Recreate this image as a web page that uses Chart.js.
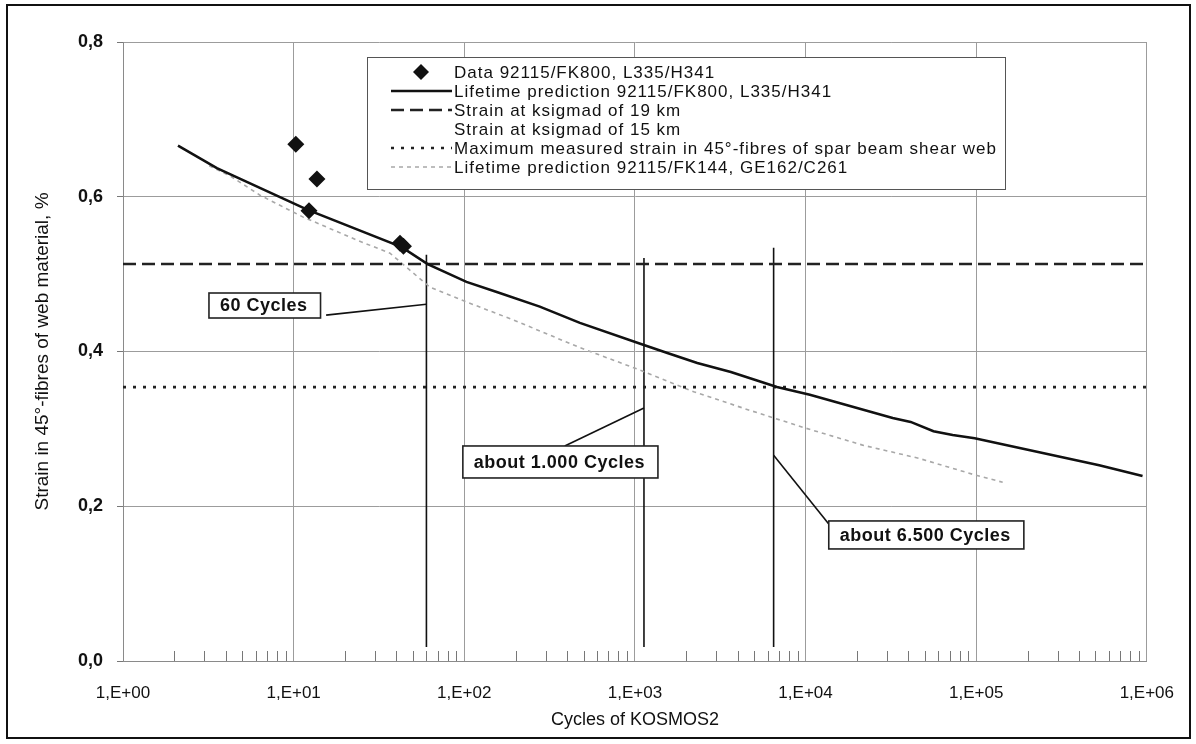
<!DOCTYPE html>
<html>
<head>
<meta charset="utf-8">
<script src="https://cdn.jsdelivr.net/npm/chart.js@4.4.1/dist/chart.umd.min.js"></script>
<style>
  html, body { margin: 0; padding: 0; background: #fff; }
  #lifeChart { display: block; }
</style>
</head>
<body>
<canvas id="lifeChart" width="1196" height="744"></canvas>
<script>
// test results, KOSMOS2 cycles vs. strain in %
const testCycles = [10.3, 13.7, 12.3, 42, 44];
const testStrain = [0.668, 0.623, 0.582, 0.540, 0.536];

// lifetime prediction 92115/FK800, L335/H341
const fk800Cycles = [2.1, 3.55, 12.1, 43, 61, 103, 155, 277, 476, 1140, 1550, 2320, 3650, 6800, 10600, 32400, 41300, 56200, 72800, 98000, 526000, 944000];
const fk800Strain = [0.666, 0.637, 0.583, 0.535, 0.513, 0.490, 0.477, 0.458, 0.437, 0.408, 0.398, 0.385, 0.3735, 0.354, 0.344, 0.314, 0.309, 0.297, 0.292, 0.288, 0.253, 0.239];

// lifetime prediction 92115/FK144, GE162/C261
const fk144Cycles = [3.2, 4.24, 6.35, 11.3, 23.5, 36.7, 63, 103, 193, 476, 1070, 1660, 2210, 4710, 10000, 21600, 46000, 100000, 143000];
const fk144Strain = [0.640, 0.627, 0.602, 0.574, 0.544, 0.527, 0.483, 0.464, 0.441, 0.405, 0.376, 0.359, 0.348, 0.324, 0.301, 0.279, 0.262, 0.240, 0.231];

// horizontal strain levels
const cycleRange = [1, 1000000];
const strain19km = 0.513;
const strainMaxMeasured = 0.354;

// marked cycle counts and their labels
const markCycles = [60, 1130, 6500];
const markTopStrain = [0.525, 0.521, 0.534];
const markBottomStrain = 0.018;
const markLabels = ['60 Cycles', 'about 1.000 Cycles', 'about 6.500 Cycles'];
const markBoxCycles = [3.19, 98.1, 13680];   // label box left edge
const markBoxStrain = [0.4756, 0.2779, 0.181]; // label box top edge
const leaderFromCycles = [15.5, 388, 13680];
const leaderFromStrain = [0.447, 0.2779, 0.177];
const leaderToStrain = [0.461, 0.327, 0.266];

const decadeLabels = ['1,E+00', '1,E+01', '1,E+02', '1,E+03', '1,E+04', '1,E+05', '1,E+06'];
const strainTicks = [0, 0.2, 0.4, 0.6, 0.8];

const FONT = '"Liberation Sans", Arial, sans-serif';
const pts = (xs, ys) => xs.map((x, i) => ({ x: x, y: ys[i] }));

const datasets = [
  {
    label: 'Data 92115/FK800, L335/H341',
    data: pts(testCycles, testStrain),
    showLine: false,
    pointStyle: 'rectRot',
    pointRadius: 8.5,
    backgroundColor: '#111',
    borderColor: '#111',
    borderWidth: 0
  },
  {
    label: 'Lifetime prediction 92115/FK800, L335/H341',
    data: pts(fk800Cycles, fk800Strain),
    showLine: true,
    borderColor: '#111',
    borderWidth: 2.6,
    pointRadius: 0
  },
  {
    label: 'Strain at ksigmad of 19 km',
    data: pts(cycleRange, [strain19km, strain19km]),
    showLine: true,
    borderColor: '#222',
    borderWidth: 2.6,
    borderDash: [13, 6],
    pointRadius: 0
  },
  {
    label: 'Strain at ksigmad of 15 km',
    data: [],
    showLine: true,
    borderColor: 'rgba(0,0,0,0)',
    borderWidth: 0,
    pointRadius: 0
  },
  {
    label: 'Maximum measured strain in 45°-fibres of spar beam shear web',
    data: pts(cycleRange, [strainMaxMeasured, strainMaxMeasured]),
    showLine: true,
    borderColor: '#222',
    borderWidth: 2.6,
    borderDash: [3, 7],
    pointRadius: 0
  },
  {
    label: 'Lifetime prediction 92115/FK144, GE162/C261',
    data: pts(fk144Cycles, fk144Strain),
    showLine: true,
    borderColor: '#a8a8a8',
    borderWidth: 1.6,
    borderDash: [4, 4],
    pointRadius: 0
  }
];

// vertical markers and the leader lines to their labels
markCycles.forEach((c, i) => {
  datasets.push({
    data: pts([c, c], [markBottomStrain, markTopStrain[i]]),
    showLine: true, borderColor: '#111', borderWidth: 1.6, pointRadius: 0
  });
  datasets.push({
    data: pts([leaderFromCycles[i], c], [leaderFromStrain[i], leaderToStrain[i]]),
    showLine: true, borderColor: '#111', borderWidth: 1.6, pointRadius: 0
  });
});

const isDecade = v => Math.abs(Math.log10(v) - Math.round(Math.log10(v))) < 1e-9;

// white page and outer frame
const pageFrame = {
  id: 'pageFrame',
  beforeDraw(chart) {
    const { ctx, width, height } = chart;
    ctx.save();
    ctx.fillStyle = '#fff';
    ctx.fillRect(0, 0, width, height);
    ctx.restore();
  },
  afterDraw(chart) {
    const { ctx } = chart;
    ctx.save();
    ctx.strokeStyle = '#111';
    ctx.lineWidth = 2;
    ctx.strokeRect(7, 5, 1183, 733);
    ctx.restore();
  }
};

// short inward ticks at 2..9 of every decade
const minorTicks = {
  id: 'minorTicks',
  afterDatasetsDraw(chart) {
    const { ctx } = chart;
    const xs = chart.scales.x;
    const bottom = chart.chartArea.bottom;
    ctx.save();
    ctx.strokeStyle = '#777';
    ctx.lineWidth = 1;
    ctx.beginPath();
    xs.ticks.forEach(t => {
      if (isDecade(t.value)) return;
      const px = Math.round(xs.getPixelForValue(t.value)) + 0.5;
      ctx.moveTo(px, bottom);
      ctx.lineTo(px, bottom - 10);
    });
    ctx.stroke();
    ctx.restore();
  }
};

// boxed labels for the marked cycle counts
const markBoxes = {
  id: 'markBoxes',
  afterDatasetsDraw(chart) {
    const { ctx } = chart;
    const xs = chart.scales.x, ys = chart.scales.y;
    ctx.save();
    ctx.font = 'bold 18px ' + FONT;
    if ('letterSpacing' in ctx) ctx.letterSpacing = '0.5px';
    ctx.textBaseline = 'middle';
    markLabels.forEach((txt, i) => {
      const x = xs.getPixelForValue(markBoxCycles[i]);
      const y = ys.getPixelForValue(markBoxStrain[i]);
      const w = ctx.measureText(txt).width + 24;
      const h = [25, 32, 28][i];
      ctx.fillStyle = '#fff';
      ctx.fillRect(x, y, w, h);
      ctx.strokeStyle = '#222';
      ctx.lineWidth = 1.6;
      ctx.strokeRect(x, y, w, h);
      ctx.fillStyle = '#111';
      ctx.fillText(txt, x + 11, y + h / 2 + 1);
    });
    ctx.restore();
  }
};

// legend inside the plot, Excel style
const legendBox = {
  id: 'legendBox',
  afterDatasetsDraw(chart) {
    const { ctx } = chart;
    const rows = chart.data.datasets.filter(d => d.label);
    const left = 367, top = 57, right = 1005, rowH = 19;
    const sampleL = 391, sampleR = 452, textX = 454;
    const bottom = top + 15 + (rows.length - 1) * rowH + 22;
    ctx.save();
    ctx.fillStyle = '#fff';
    ctx.fillRect(left, top, right - left, bottom - top);
    ctx.strokeStyle = '#555';
    ctx.lineWidth = 1;
    ctx.strokeRect(left + 0.5, top + 0.5, right - left, bottom - top);
    ctx.font = '17px ' + FONT;
    if ('letterSpacing' in ctx) ctx.letterSpacing = '1px';
    ctx.textBaseline = 'middle';
    rows.forEach((d, i) => {
      const cy = top + 15 + i * rowH;
      if (d.showLine === false) {
        const r = 8;
        const cx = 421;
        ctx.fillStyle = d.backgroundColor;
        ctx.beginPath();
        ctx.moveTo(cx, cy - r); ctx.lineTo(cx + r, cy);
        ctx.lineTo(cx, cy + r); ctx.lineTo(cx - r, cy);
        ctx.closePath();
        ctx.fill();
      } else if (d.borderWidth > 0) {
        ctx.strokeStyle = d.borderColor;
        ctx.lineWidth = d.borderWidth;
        ctx.setLineDash(d.borderDash || []);
        ctx.beginPath();
        ctx.moveTo(sampleL, cy);
        ctx.lineTo(sampleR, cy);
        ctx.stroke();
        ctx.setLineDash([]);
      }
      ctx.fillStyle = '#111';
      ctx.fillText(d.label, textX, cy + 1);
    });
    ctx.restore();
  }
};

new Chart(document.getElementById('lifeChart'), {
  type: 'scatter',
  data: { datasets: datasets },
  options: {
    responsive: false,
    animation: false,
    events: [],
    layout: { padding: { top: 42, right: 49, left: 0, bottom: 0 } },
    plugins: {
      legend: { display: false },
      tooltip: { enabled: false }
    },
    scales: {
      x: {
        type: 'logarithmic',
        min: cycleRange[0],
        max: cycleRange[1],
        afterBuildTicks: scale => {
          const ticks = [];
          for (let e = 0; e < decadeLabels.length; e++) {
            for (let m = 1; m <= 9; m++) {
              const v = m * Math.pow(10, e);
              if (v <= cycleRange[1]) ticks.push({ value: v });
            }
          }
          scale.ticks = ticks;
        },
        afterFit: scale => { scale.height = 83; },
        grid: {
          color: c => (c.tick && isDecade(c.tick.value)) ? '#9c9c9c' : 'rgba(0,0,0,0)',
          lineWidth: 1,
          drawTicks: false
        },
        border: { color: '#8a8a8a', width: 1 },
        ticks: {
          autoSkip: false,
          maxRotation: 0,
          padding: 22,
          color: '#111',
          font: { family: FONT, size: 17 },
          callback: v => isDecade(v) ? decadeLabels[Math.round(Math.log10(v))] : ''
        },
        title: {
          display: true,
          text: 'Cycles of KOSMOS2',
          color: '#111',
          font: { family: FONT, size: 18 },
          padding: { top: 4, bottom: 13 }
        }
      },
      y: {
        min: strainTicks[0],
        max: strainTicks[strainTicks.length - 1],
        afterFit: scale => { scale.width = 123; },
        afterBuildTicks: scale => { scale.ticks = strainTicks.map(v => ({ value: v })); },
        grid: { color: '#9c9c9c', lineWidth: 1, tickLength: 6, tickColor: '#777' },
        border: { color: '#8a8a8a', width: 1 },
        ticks: {
          padding: 14,
          color: '#111',
          font: { family: FONT, size: 18, weight: 'bold' },
          callback: v => v.toFixed(1).replace('.', ',')
        },
        title: {
          display: true,
          text: 'Strain in 45°-fibres of web material, %',
          color: '#111',
          font: { family: FONT, size: 19 },
          padding: { top: 31, bottom: 0 }
        }
      }
    }
  },
  plugins: [pageFrame, minorTicks, markBoxes, legendBox]
});
</script>
</body>
</html>
